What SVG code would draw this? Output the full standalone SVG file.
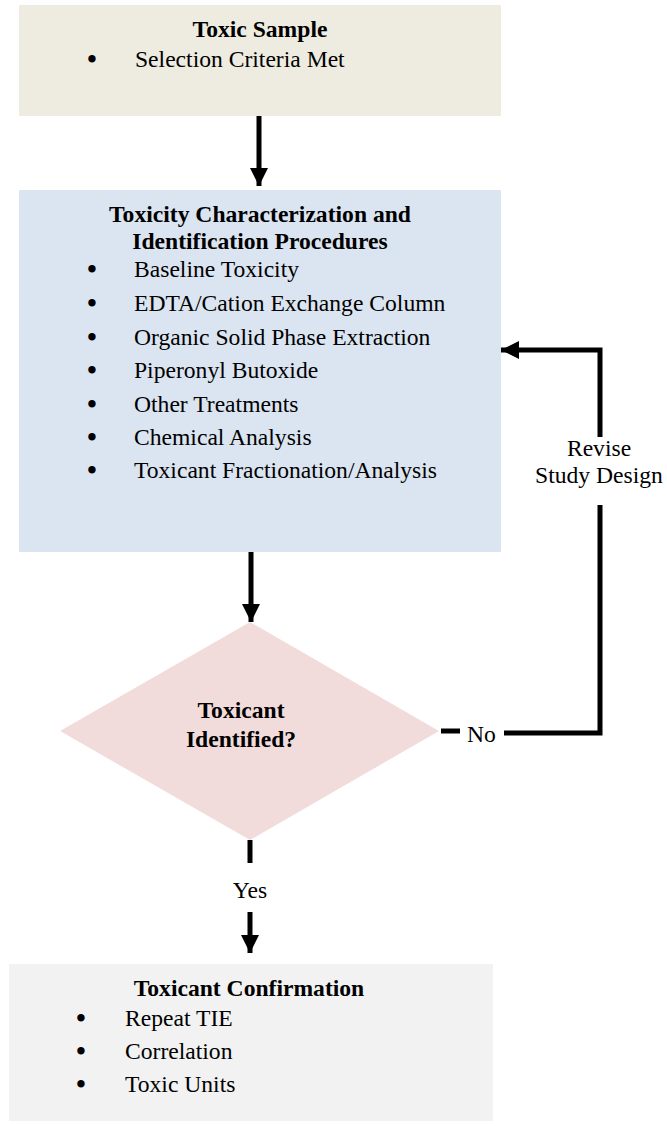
<svg xmlns="http://www.w3.org/2000/svg" width="667" height="1126" viewBox="0 0 667 1126">
  <style>
    text { font-family: "Liberation Serif", "Times New Roman", serif; font-size: 23.6px; fill: #000; }
    .b { font-weight: bold; }
    .m { text-anchor: middle; }
    .bul { text-anchor: middle; font-size: 31px; }
    .conn { fill: none; stroke: #000; stroke-width: 5; stroke-linejoin: miter; stroke-linecap: butt; }
  </style>
  <defs>
    <marker id="ah" viewBox="0 0 18 18" refX="18" refY="9" markerWidth="18" markerHeight="18" markerUnits="userSpaceOnUse" orient="auto">
      <path d="M0,0 L18,9 L0,18 z" fill="#000"/>
    </marker>
  </defs>
  <rect width="667" height="1126" fill="#fff"/>

  <g id="toxic-sample">
    <rect x="19" y="5" width="482" height="111" fill="#EEECE1"/>
    <text class="b m" x="260" y="37">Toxic Sample</text>
    <text class="bul" x="92" y="70">•</text>
    <text x="135" y="67">Selection Criteria Met</text>
  </g>

  <g id="tie-procedures">
    <rect x="19" y="190" width="482" height="362" fill="#DBE5F1"/>
    <text class="b m" x="260" y="222">Toxicity Characterization and</text>
    <text class="b m" x="260" y="249">Identification Procedures</text>
    <text class="bul" x="92" y="280">•</text><text x="134" y="277">Baseline Toxicity</text>
    <text class="bul" x="92" y="314">•</text><text x="134" y="311">EDTA/Cation Exchange Column</text>
    <text class="bul" x="92" y="348">•</text><text x="134" y="345">Organic Solid Phase Extraction</text>
    <text class="bul" x="92" y="381">•</text><text x="134" y="378">Piperonyl Butoxide</text>
    <text class="bul" x="92" y="415">•</text><text x="134" y="412">Other Treatments</text>
    <text class="bul" x="92" y="448">•</text><text x="134" y="445">Chemical Analysis</text>
    <text class="bul" x="92" y="481">•</text><text x="134" y="478">Toxicant Fractionation/Analysis</text>
  </g>

  <g id="decision">
    <polygon points="250,622 439,731 250,840 60,731" fill="#F2DCDB"/>
    <text class="b m" x="241" y="718">Toxicant</text>
    <text class="b m" x="241" y="747">Identified?</text>
  </g>

  <g id="confirmation">
    <rect x="9" y="964" width="484" height="157" fill="#F2F2F2"/>
    <text class="b m" x="249" y="996">Toxicant Confirmation</text>
    <text class="bul" x="81" y="1029">•</text><text x="125" y="1026">Repeat TIE</text>
    <text class="bul" x="81" y="1062">•</text><text x="125" y="1059">Correlation</text>
    <text class="bul" x="81" y="1095">•</text><text x="125" y="1092">Toxic Units</text>
  </g>

  <g id="connectors">
    <path class="conn" d="M259,116 V186" marker-end="url(#ah)"/>
    <path class="conn" d="M251,552 V622" marker-end="url(#ah)"/>
    <path class="conn" d="M250,840 V863"/>
    <path class="conn" d="M250,912 V953" marker-end="url(#ah)"/>
    <path class="conn" d="M441,731 H460"/>
    <path class="conn" d="M504,733 H600 V505"/>
    <path class="conn" d="M600,437 V350 H501" marker-end="url(#ah)"/>
    <text x="467" y="742">No</text>
    <text class="m" x="599" y="456">Revise</text>
    <text class="m" x="599" y="483">Study Design</text>
    <text class="m" x="250" y="898">Yes</text>
  </g>
</svg>
